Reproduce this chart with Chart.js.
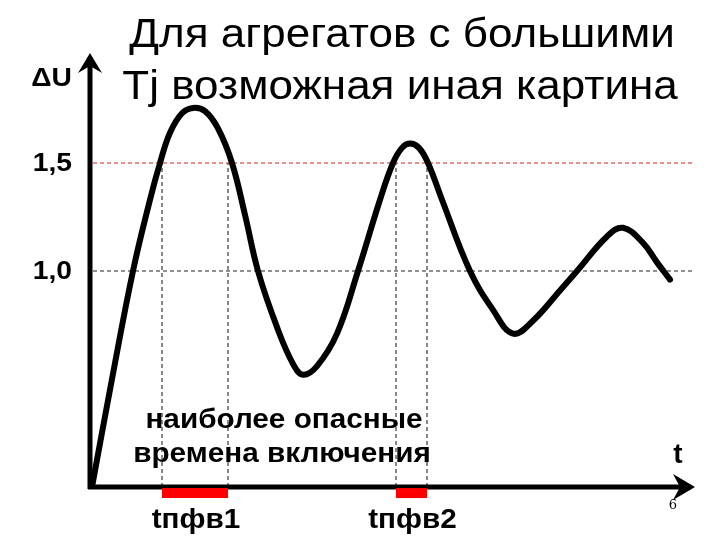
<!DOCTYPE html>
<html>
<head>
<meta charset="utf-8">
<script src="https://cdn.jsdelivr.net/npm/chart.js@4/dist/chart.umd.min.js"></script>
<style>
  html, body { margin: 0; padding: 0; background: #fff; }
  #wrap { width: 720px; height: 540px; }
</style>
</head>
<body>
<div id="wrap"><canvas id="chart" width="720" height="540"></canvas></div>
<script>
// данные кривой (t условное, ΔU в о.е.)
const curveT = [0.2, 2.2, 4.3, 6.0, 7.0, 8.0, 9.2, 10.3, 11.5, 12.8, 14.2, 15.5, 16.8, 18.7, 20.3, 21.3, 22.7, 24.7, 26.8, 29.0, 30.3, 31.2, 32.0, 32.9, 33.8, 35.2, 38.0, 40.3, 42.3, 44.3, 47.0, 48.7, 51.7, 53.3, 55.3, 56.7, 58.0];
const curveU = [0, 0.50, 1.00, 1.33, 1.50, 1.64, 1.73, 1.755, 1.74, 1.66, 1.50, 1.26, 1.00, 0.74, 0.57, 0.52, 0.56, 0.71, 1.00, 1.33, 1.50, 1.57, 1.59, 1.57, 1.50, 1.33, 1.00, 0.82, 0.71, 0.77, 0.91, 1.00, 1.16, 1.20, 1.13, 1.04, 0.96];

// уровни и подписи оси ΔU
const yTicks = [1.0, 1.5];
const yTickLabels = ['1,0', '1,5'];
const levelColors = ['#222', '#d02020'];

// опасные интервалы включения
const zoneStart = [7.2, 30.6];
const zoneEnd = [13.8, 33.7];
const zoneLabels = ['tпфв1', 'tпфв2'];

const tMax = 60.5;
const uMax = 2.0;

const datasets = [];

datasets.push({
  data: curveT.map((t, i) => ({ x: t, y: curveU[i] })),
  borderColor: '#000',
  borderWidth: 6,
  pointRadius: 0,
  tension: 0.4,
  borderCapStyle: 'round',
  borderJoinStyle: 'round',
  fill: false
});

// горизонтальные пунктиры
yTicks.forEach((v, i) => {
  datasets.push({
    data: [{ x: 0.3, y: v }, { x: tMax, y: v }],
    borderColor: levelColors[i],
    borderWidth: 1,
    borderDash: [4, 3],
    pointRadius: 0,
    fill: false
  });
});

// вертикальные пунктиры и красные отрезки
zoneStart.forEach((s, i) => {
  [s, zoneEnd[i]].forEach(t => {
    datasets.push({
      data: [{ x: t, y: 0 }, { x: t, y: 1.5 }],
      borderColor: '#111',
      borderWidth: 1,
      borderDash: [4, 3],
      pointRadius: 0,
      fill: false
    });
  });
  datasets.push({
    data: [{ x: s, y: -0.028 }, { x: zoneEnd[i], y: -0.028 }],
    borderColor: '#ff0000',
    borderWidth: 10,
    borderCapStyle: 'butt',
    pointRadius: 0,
    clip: false,
    fill: false
  });
});

const FONT = 'Arial, "Liberation Sans", sans-serif';

// текст с растяжением по горизонтали
function wideText(ctx, text, x, y, sx) {
  ctx.save();
  ctx.translate(x, y);
  ctx.scale(sx, 1);
  ctx.fillText(text, 0, 0);
  ctx.restore();
}

const axesPlugin = {
  id: 'axesPlugin',
  beforeDatasetsDraw(chart) {
    const { ctx, scales: { x, y } } = chart;
    const x0 = x.getPixelForValue(0);
    const y0 = y.getPixelForValue(0);
    const xEnd = x.getPixelForValue(tMax);
    const yTop = y.getPixelForValue(uMax) - 2;
    ctx.save();
    ctx.strokeStyle = '#000';
    ctx.lineWidth = 5;
    ctx.lineCap = 'butt';
    ctx.beginPath();
    ctx.moveTo(x0, y0 + 2);
    ctx.lineTo(x0, yTop + 4);
    ctx.moveTo(x0 - 2, y0);
    ctx.lineTo(xEnd - 4, y0);
    ctx.stroke();
    // стрелки
    ctx.fillStyle = '#000';
    ctx.beginPath();
    ctx.moveTo(x0, yTop);
    ctx.lineTo(x0 + 12, yTop + 20);
    ctx.lineTo(x0, yTop + 13);
    ctx.lineTo(x0 - 12, yTop + 20);
    ctx.closePath();
    ctx.fill();
    ctx.beginPath();
    ctx.moveTo(xEnd, y0);
    ctx.lineTo(xEnd - 22, y0 - 13);
    ctx.lineTo(xEnd - 15, y0);
    ctx.lineTo(xEnd - 22, y0 + 13);
    ctx.closePath();
    ctx.fill();
    ctx.restore();
  },
  afterDraw(chart) {
    const { ctx, scales: { x, y } } = chart;
    ctx.save();
    ctx.fillStyle = '#000';
    ctx.textBaseline = 'alphabetic';

    ctx.font = '40px ' + FONT;
    ctx.textAlign = 'center';
    wideText(ctx, 'Для агрегатов с большими', 402, 47, 1.1);
    wideText(ctx, 'Tj возможная иная картина', 400, 99, 1.1);

    ctx.font = 'bold 25px ' + FONT;
    ctx.textAlign = 'right';
    wideText(ctx, 'ΔU', 72, 86, 1.13);
    ctx.textBaseline = 'middle';
    yTicks.forEach((v, i) => {
      wideText(ctx, yTickLabels[i], 72, y.getPixelForValue(v) + 1, 1.13);
    });

    ctx.textBaseline = 'alphabetic';
    ctx.textAlign = 'center';
    ctx.font = 'bold 27px ' + FONT;
    wideText(ctx, 'наиболее опасные', 284, 428, 1.1);
    wideText(ctx, 'времена включения', 282, 462, 1.1);
    zoneStart.forEach((s, i) => {
      const cx = (x.getPixelForValue(s) + x.getPixelForValue(zoneEnd[i])) / 2;
      wideText(ctx, zoneLabels[i], cx + 1, 528, 1.1);
    });
    ctx.font = 'bold 28px ' + FONT;
    ctx.fillText('t', 678, 463);

    ctx.font = '13px "DejaVu Serif", serif';
    ctx.fillText('6', 673, 509);
    ctx.restore();
  }
};

new Chart(document.getElementById('chart'), {
  type: 'line',
  data: { datasets },
  options: {
    responsive: false,
    animation: false,
    events: [],
    layout: { padding: { left: 90, right: 25, top: 55, bottom: 53 } },
    plugins: { legend: { display: false }, tooltip: { enabled: false } },
    scales: {
      x: { type: 'linear', min: 0, max: tMax, display: false },
      y: { type: 'linear', min: 0, max: uMax, display: false }
    }
  },
  plugins: [axesPlugin]
});
</script>
</body>
</html>
